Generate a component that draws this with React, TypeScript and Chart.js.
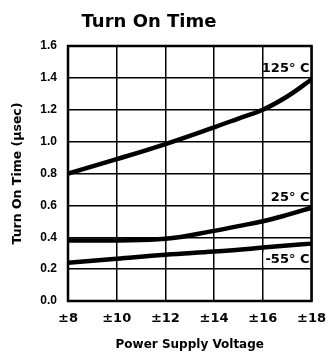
import React, { useEffect, useRef } from "react";
import { Chart, registerables } from "chart.js";

Chart.register(...registerables);

const volts = [8, 10, 12, 14, 15, 16, 17, 18];
const t125 = [0.8, 0.89, 0.985, 1.09, 1.145, 1.2, 1.283, 1.39];
const t25 = [0.38, 0.38, 0.39, 0.44, 0.47, 0.5, 0.54, 0.585];
const tm55 = [0.24, 0.265, 0.29, 0.31, 0.322, 0.335, 0.348, 0.36];
const seriesLabels = ["125° C", "25° C", "-55° C"];
const labelY = [1.46, 0.65, 0.26];
const titleText = "Turn On Time";
const xTitle = "Power Supply Voltage";
const yTitle = "Turn On Time (µsec)";

const FONT = "'DejaVu Sans', sans-serif";

const overlay = {
  id: "overlay",
  afterDraw(chart: any) {
    const { ctx, chartArea, scales } = chart;
    ctx.save();
    ctx.strokeStyle = "#000";
    ctx.lineWidth = 2.5;
    ctx.strokeRect(chartArea.left, chartArea.top, chartArea.right - chartArea.left, chartArea.bottom - chartArea.top);
    ctx.fillStyle = "#000";
    ctx.font = `bold 18px ${FONT}`;
    ctx.textAlign = "center";
    ctx.textBaseline = "middle";
    ctx.fillText(titleText, 149, 22);
    ctx.font = `bold 13px ${FONT}`;
    ctx.textAlign = "right";
    const xr = scales.x.getPixelForValue(volts[volts.length - 1]) - 2;
    seriesLabels.forEach((lab, i) => {
      const y = scales.y.getPixelForValue(labelY[i]);
      if (i === 2) {
        const w = ctx.measureText(lab).width;
        ctx.fillStyle = "#fff";
        ctx.fillRect(xr - w - 2, y - 7, w + 2, 14);
      }
      ctx.fillStyle = "#000";
      ctx.fillText(lab, xr, y);
    });
    ctx.restore();
  },
};

export default function App() {
  const ref = useRef<HTMLCanvasElement>(null);
  useEffect(() => {
    const mk = (ys: number[]) => volts.map((v, i) => ({ x: v, y: ys[i] }));
    const ds = (ys: number[]) => ({
      data: mk(ys),
      borderColor: "#000",
      borderWidth: 4.5,
      pointRadius: 0,
      tension: 0.4,
      fill: false,
    });
    const chart = new Chart(ref.current!, {
      type: "line",
      data: { datasets: [ds(t125), ds(t25), ds(tm55)] },
      plugins: [overlay],
      options: {
        animation: false,
        responsive: false,
        layout: { padding: { left: 0, right: 14, top: 46, bottom: 0 } },
        plugins: { legend: { display: false }, tooltip: { enabled: false } },
        scales: {
          x: {
            type: "linear",
            min: 8,
            max: 18,
            afterFit: (s: any) => { s.height = 59; },
            ticks: {
              stepSize: 2,
              color: "#000",
              padding: 10,
              font: { family: FONT, weight: "bold", size: 13 },
              callback: (v: any) => "±" + v,
            },
            grid: { color: "#000", lineWidth: 1.5, drawTicks: false },
            border: { display: false },
            title: {
              display: true,
              text: xTitle,
              color: "#000",
              font: { family: FONT, weight: "bold", size: 12 },
              padding: { top: 0, bottom: 8 },
            },
          },
          y: {
            min: 0,
            max: 1.6,
            afterFit: (s: any) => { s.width = 68; },
            ticks: {
              stepSize: 0.2,
              color: "#000",
              padding: 11,
              font: { family: "'Liberation Sans', sans-serif", weight: "bold", size: 12 },
              callback: (v: any) => Number(v).toFixed(1),
            },
            grid: { color: "#000", lineWidth: 1.5, drawTicks: false },
            border: { display: false },
            title: {
              display: true,
              text: yTitle,
              color: "#000",
              font: { family: FONT, weight: "bold", size: 12.5 },
              padding: { top: 10, bottom: 0 },
            },
          },
        },
      },
    });
    return () => chart.destroy();
  }, []);
  return (
    <div style={{ position: "fixed", left: 0, top: 0, width: 336, height: 360, background: "#fff" }}>
      <canvas ref={ref} width={336} height={360} style={{ width: 336, height: 360 }} />
    </div>
  );
}
